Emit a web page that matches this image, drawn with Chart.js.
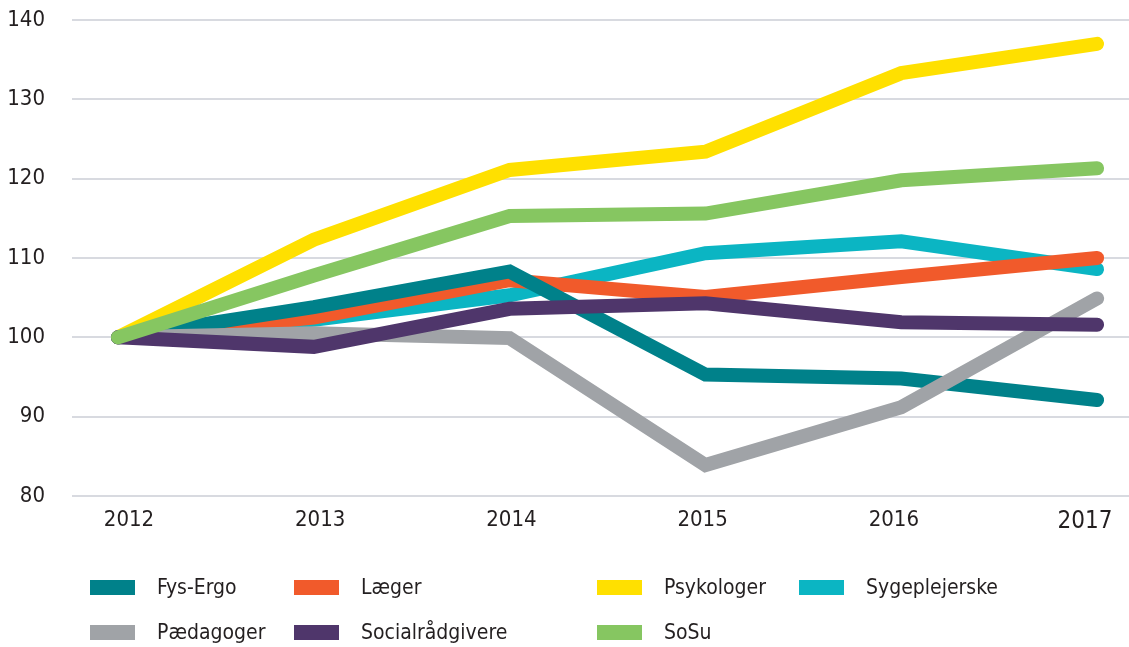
<!DOCTYPE html>
<html>
<head>
<meta charset="utf-8">
<script src="https://cdn.jsdelivr.net/npm/chart.js@4/dist/chart.umd.min.js"></script>
<style>
  html, body { margin: 0; padding: 0; background: #fff; }
  #wrap { position: relative; width: 1129px; height: 647px; }
  #chartBox { position: absolute; left: 0; top: 0; width: 1129px; height: 548px; }
  #legend { position: absolute; left: 0; top: 0; width: 1129px; height: 647px; pointer-events: none; }
  .item { position: absolute; display: flex; align-items: center; height: 24px;
          font-family: "Liberation Sans Narrow", "DejaVu Sans Condensed", sans-serif;
          font-size: 21px; color: #231f20; }
  .item span.box { display: inline-block; width: 45px; height: 15px; margin-right: 22px; }
</style>
</head>
<body>
<div id="wrap">
  <div id="chartBox"><canvas id="chart"></canvas></div>
  <div id="legend"></div>
</div>
<script>
const years = [2012, 2013, 2014, 2015, 2016, 2017];
const yTicks = [80, 90, 100, 110, 120, 130, 140];

const fysErgo = [100, 103.8, 108.3, 95.3, 94.8, 92.1];
const laeger = [100, 102.5, 107.2, 105.1, 107.6, 110.0];
const psykologer = [100, 112.3, 121.1, 123.4, 133.3, 137.0];
const sygeplejerske = [100, 102.2, 105.3, 110.6, 112.1, 108.6];
const paedagoger = [100, 100.5, 99.9, 83.9, 91.2, 104.9];
const socialraadgivere = [100, 98.8, 103.6, 104.3, 101.9, 101.6];
const sosu = [100, 107.8, 115.3, 115.6, 119.8, 121.3];

const fontFam = '"Liberation Sans Narrow", "DejaVu Sans Condensed", sans-serif';

function pts(vals) {
  return vals.map((v, i) => ({ x: years[i], y: v }));
}

// legend rows/columns as in the original figure
const series = [
  { label: 'Fys-Ergo', data: fysErgo, color: '#00818a', order: 3, col: 0, row: 0 },
  { label: 'Læger', data: laeger, color: '#f15a2b', order: 4, col: 1, row: 0 },
  { label: 'Psykologer', data: psykologer, color: '#ffe000', order: 6, col: 2, row: 0 },
  { label: 'Sygeplejerske', data: sygeplejerske, color: '#0bb5c3', order: 5, col: 3, row: 0 },
  { label: 'Pædagoger', data: paedagoger, color: '#a0a3a7', order: 2, col: 0, row: 1 },
  { label: 'Socialrådgivere', data: socialraadgivere, color: '#4f366b', order: 1, col: 1, row: 1 },
  { label: 'SoSu', data: sosu, color: '#86c661', order: 0, col: 2, row: 1 }
];

const ctx = document.getElementById('chart').getContext('2d');

const chart = new Chart(ctx, {
  type: 'line',
  data: {
    datasets: series.map(s => ({
      label: s.label,
      data: pts(s.data),
      borderColor: s.color,
      backgroundColor: s.color,
      borderWidth: 14,
      borderCapStyle: 'round',
      borderJoinStyle: 'miter',
      pointRadius: 0,
      tension: 0,
      order: s.order,
      xAxisID: 'x'
    }))
  },
  options: {
    responsive: true,
    maintainAspectRatio: false,
    animation: false,
    layout: { padding: { top: 20, right: 0, left: 0, bottom: 0 } },
    plugins: {
      legend: { display: false },
      tooltip: { enabled: false }
    },
    scales: {
      x: {
        type: 'linear',
        min: 2011.765,
        max: 2017.163,
        display: false
      },
      xl: {
        type: 'linear',
        position: 'bottom',
        min: 2011.702,
        max: 2017.23,
        afterBuildTicks: s => { s.ticks = years.map(v => ({ value: v })); },
        afterFit: s => { s.height = 52; s.paddingLeft = 0; s.paddingRight = 0; },
        border: { display: false },
        grid: { display: false, drawTicks: false },
        ticks: {
          padding: 11,
          color: '#231f20',
          maxRotation: 0,
          autoSkip: false,
          font: c => ({ family: fontFam, size: c.tick && c.tick.value === 2017 ? 24 : 22 }),
          callback: v => String(v)
        }
      },
      y: {
        min: 80,
        max: 140,
        afterBuildTicks: s => { s.ticks = yTicks.map(v => ({ value: v })); },
        afterFit: s => { s.width = 72; s.paddingTop = 0; s.paddingBottom = 0; },
        border: { display: false },
        grid: { color: '#d8dae0', lineWidth: 2, drawTicks: false },
        ticks: {
          padding: 27,
          color: '#231f20',
          font: { family: fontFam, size: 22 }
        }
      }
    }
  }
});

// html legend built from the chart's datasets
const colLeft = [90, 294, 597, 799];
const rowTop = [575, 620];
const legendEl = document.getElementById('legend');
chart.data.datasets.forEach((ds, i) => {
  const s = series[i];
  const item = document.createElement('div');
  item.className = 'item';
  item.style.left = colLeft[s.col] + 'px';
  item.style.top = rowTop[s.row] + 'px';
  const box = document.createElement('span');
  box.className = 'box';
  box.style.background = ds.borderColor;
  const txt = document.createElement('span');
  txt.textContent = ds.label;
  item.appendChild(box);
  item.appendChild(txt);
  legendEl.appendChild(item);
});
</script>
</body>
</html>
